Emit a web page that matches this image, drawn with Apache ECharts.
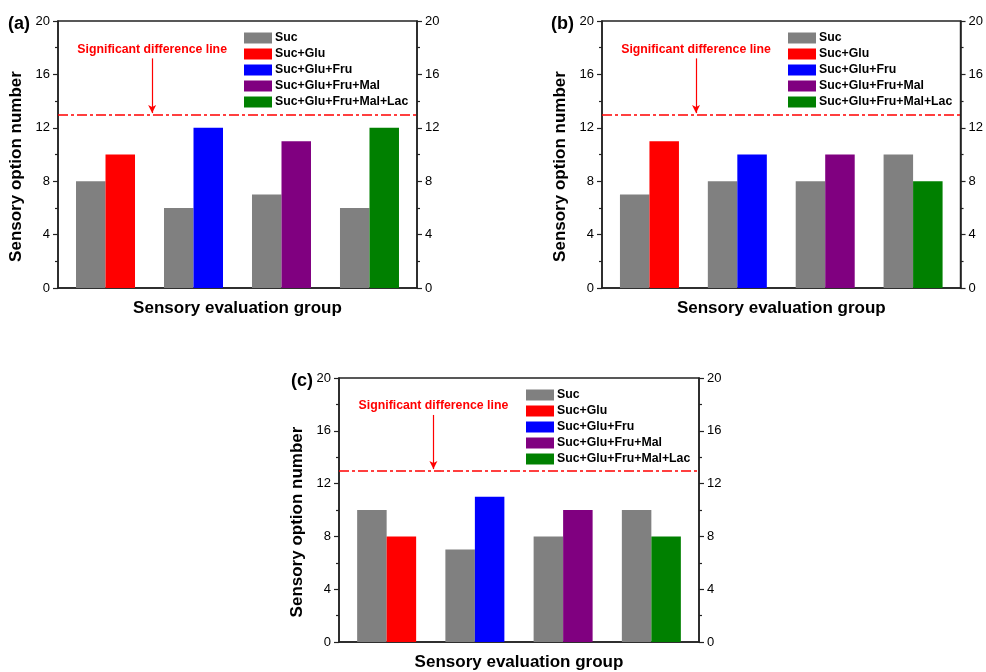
<!DOCTYPE html>
<html>
<head>
<meta charset="utf-8">
<title>Sensory evaluation</title>
<script src="https://cdn.jsdelivr.net/npm/echarts@6/dist/echarts.min.js"></script>
<style>
html, body { margin: 0; padding: 0; background: #fff; }
#main { width: 986px; height: 672px; }
</style>
</head>
<body>
<div id="main"></div>
<script>
// group positions on the x axis (4 sensory evaluation groups)
var groupPos = [1, 2, 3, 4];
var seriesNames = ['Suc', 'Suc+Glu', 'Suc+Glu+Fru', 'Suc+Glu+Fru+Mal', 'Suc+Glu+Fru+Mal+Lac'];
var seriesColors = ['#808080', '#ff0000', '#0000ff', '#800080', '#008000'];
var yTicks = [0, 4, 8, 12, 16, 20];
var panelLabels = ['(a)', '(b)', '(c)'];

// panel (a)
var sucA = [8, 6, 7, 6];
var mixA = [10, 12, 11, 12];
// panel (b)
var sucB = [7, 8, 8, 10];
var mixB = [11, 10, 10, 8];
// panel (c)
var sucC = [10, 7, 8, 10];
var mixC = [8, 11, 10, 8];

var sigLine = 13;
var sigText = 'Significant difference line';
var arrowX = 1.53;
var arrowTop = 17.2;

var FONT = '"Liberation Sans", Arial, sans-serif';

var panels = [
    { suc: sucA, mix: mixA, grid: { left: 58, top: 21, width: 359, height: 267 }, legend: { left: 244, top: 32 }, title: { left: 8, top: 15 } },
    { suc: sucB, mix: mixB, grid: { left: 602, top: 21, width: 359, height: 267 }, legend: { left: 788, top: 32 }, title: { left: 551, top: 15 } },
    { suc: sucC, mix: mixC, grid: { left: 339, top: 378, width: 360, height: 266 }, legend: { left: 526, top: 389 }, title: { left: 291, top: 372 } }
];

var grids = [], xAxes = [], yAxes = [], series = [], legends = [], titles = [];

function yAxisOpt(gi, pos) {
    return {
        type: 'value',
        gridIndex: gi,
        position: pos,
        min: 0,
        max: 20,
        interval: 4,
        name: pos === 'left' ? 'Sensory option number' : '',
        nameLocation: 'middle',
        nameGap: 33,
        nameRotate: 90,
        nameTextStyle: { fontFamily: FONT, fontSize: 17, fontWeight: 'bold', color: '#000', padding: [0, 24, 0, 0] },
        axisLine: { show: true, lineStyle: { color: '#222', width: 1.5 } },
        axisTick: { show: true, inside: false, length: 5, lineStyle: { color: '#222', width: 1.2 } },
        minorTick: { show: true, splitNumber: 2, length: 3, lineStyle: { color: '#222', width: 1.2 } },
        axisLabel: {
            margin: 8, fontFamily: FONT, fontSize: 13, color: '#000',
            formatter: function (v) { return yTicks.indexOf(v) >= 0 ? String(v) : ''; }
        },
        splitLine: { show: false }
    };
}

for (var p = 0; p < panels.length; p++) {
    var P = panels[p];
    grids.push({
        left: P.grid.left, top: P.grid.top, width: P.grid.width, height: P.grid.height,
        show: true, borderColor: '#222', borderWidth: 1.5, backgroundColor: 'transparent'
    });
    xAxes.push({
        type: 'value',
        gridIndex: p,
        min: 0.46,
        max: 4.54,
        name: 'Sensory evaluation group',
        nameLocation: 'middle',
        nameGap: 12,
        nameTextStyle: { fontFamily: FONT, fontSize: 17, fontWeight: 'bold', color: '#000' },
        axisLine: { show: true, lineStyle: { color: '#222', width: 1.5 } },
        axisTick: { show: false },
        axisLabel: { show: false },
        splitLine: { show: false }
    });
    yAxes.push(yAxisOpt(p, 'left'));
    yAxes.push(yAxisOpt(p, 'right'));

    // gray reference bars
    series.push({
        name: seriesNames[0],
        type: 'bar',
        xAxisIndex: p,
        yAxisIndex: p * 2,
        barWidth: 29.5,
        barGap: '0%',
        itemStyle: { color: seriesColors[0] },
        data: groupPos.map(function (x, i) { return [x, P.suc[i]]; })
    });
    // coloured bars: each mixture only in its own group, sharing one slot
    for (var k = 1; k < seriesNames.length; k++) {
        series.push({
            name: seriesNames[k],
            type: 'bar',
            stack: 'mix' + p,
            xAxisIndex: p,
            yAxisIndex: p * 2,
            barWidth: 29.5,
            barGap: '0%',
            itemStyle: { color: seriesColors[k] },
            data: groupPos.map((function (kk, PP) {
                return function (x, i) { return [x, i === kk - 1 ? PP.mix[i] : null]; };
            })(k, P))
        });
    }
    // significance line + annotation arrow (empty helper series)
    series.push({
        name: 'sig' + p,
        type: 'line',
        xAxisIndex: p,
        yAxisIndex: p * 2,
        data: [],
        markLine: {
            silent: true,
            symbol: 'none',
            animation: false,
            label: { show: false },
            data: [
                { yAxis: sigLine, lineStyle: { color: '#ff0000', width: 1.5, type: [10, 3, 3, 3] } },
                [
                    {
                        coord: [arrowX, arrowTop],
                        symbol: 'none',
                        lineStyle: { color: '#ff0000', width: 1.2, type: 'solid' },
                        label: {
                            show: true, position: 'start', distance: 3, formatter: sigText,
                            color: '#ff0000', fontFamily: FONT, fontSize: 12.3, fontWeight: 'bold'
                        }
                    },
                    { coord: [arrowX, sigLine + 0.1], symbol: 'arrow', symbolSize: [6, 8] }
                ]
            ]
        }
    });
    legends.push({
        orient: 'vertical',
        left: P.legend.left,
        top: P.legend.top,
        padding: 0,
        itemWidth: 28,
        itemHeight: 11,
        itemGap: 4,
        icon: 'rect',
        selectedMode: false,
        data: seriesNames,
        textStyle: { fontFamily: FONT, fontSize: 12.3, fontWeight: 'bold', color: '#000', lineHeight: 11, padding: [0, 0, 0, -2] }
    });
    titles.push({
        text: panelLabels[p],
        left: P.title.left,
        top: P.title.top,
        padding: 0,
        textStyle: { fontFamily: FONT, fontSize: 18, fontWeight: 'bold', color: '#000' }
    });
}

var chart = echarts.init(document.getElementById('main'), null, { renderer: 'canvas' });
chart.setOption({
    animation: false,
    backgroundColor: '#fff',
    title: titles,
    legend: legends,
    grid: grids,
    xAxis: xAxes,
    yAxis: yAxes,
    series: series
});
</script>
</body>
</html>
